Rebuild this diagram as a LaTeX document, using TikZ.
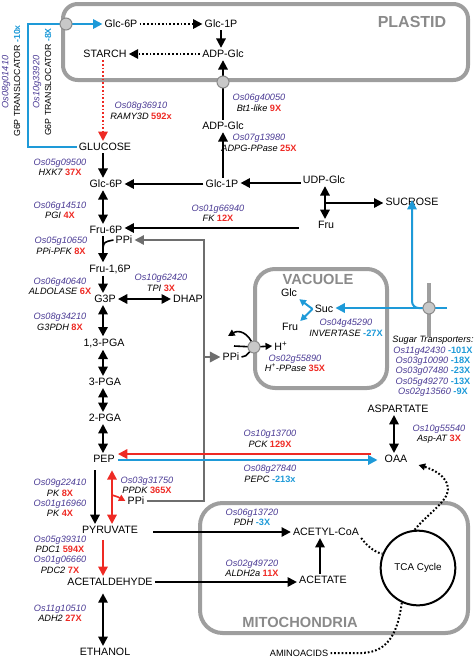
\documentclass[tikz,border=0pt]{standalone}
\usepackage{fontspec}
\setmainfont{Liberation Sans}
\usetikzlibrary{arrows.meta,calc}
\definecolor{geneC}{HTML}{4A3A94}
\definecolor{redC}{HTML}{EE2A24}
\definecolor{blueC}{HTML}{1E9AD8}
\definecolor{boxC}{HTML}{9E9E9E}
\definecolor{titleC}{HTML}{8A8A8A}
\definecolor{ppiC}{HTML}{6E6E6E}
\definecolor{circC}{HTML}{C8C8C8}
\newcommand{\upf}[1]{{\upshape\bfseries\color{redC}#1}}
\newcommand{\dnf}[1]{{\upshape\bfseries\color{blueC}#1}}
\newcommand{\gid}[1]{{\color{geneC}#1}}
\begin{document}
\begin{tikzpicture}[x=0.75pt,y=-0.75pt,
  met/.style={font=\fontsize{8}{9}\selectfont, inner sep=1.5pt},
  lab/.style={font=\fontsize{6.9}{7.8}\selectfont\itshape, align=center, inner sep=0pt},
  rlab/.style={font=\fontsize{6.6}{7.5}\selectfont, inner sep=0pt, rotate=90},
  title/.style={font=\fontsize{11}{12}\selectfont\bfseries, text=titleC},
  onehead/.style={-{Triangle[length=7pt,width=7pt]}},
  twohead/.style={{Triangle[length=7pt,width=7pt]}-{Triangle[length=7pt,width=7pt]}},
  smallhead/.style={-{Triangle[length=5pt,width=5pt]}},
  blk/.style={line width=1.5pt, onehead},
  blk2/.style={line width=1.5pt, twohead},
  dotline/.style={line width=1.5pt, dash pattern=on 1.3pt off 1.5pt},
  blueline/.style={line width=1.5pt, draw=blueC},
  redline/.style={line width=1.5pt, draw=redC},
  grayline/.style={line width=1.3pt, draw=ppiC},
  cellbox/.style={draw=boxC, line width=3pt, rounded corners=11pt},
  porter/.style={circle, draw=ppiC!80, fill=circC, line width=0.8pt, minimum size=9pt, inner sep=0pt}
]
\useasboundingbox (0,0) rectangle (474,658);

% compartments
\draw[cellbox] (63,4) rectangle (468,80);
\draw[cellbox, rounded corners=15pt] (255,269) rectangle (387,388);
\draw[cellbox, rounded corners=17pt] (200,503) rectangle (468,633);
\node[title, font=\fontsize{12}{13}\selectfont\bfseries] (plastidT) at (412,22) {PLASTID};
\node[title] (vacT) at (318,279) {VACUOLE};
\node[title] (mitoT) at (300,622) {MITOCHONDRIA};

% axes
\coordinate (ax) at (103,0);
\coordinate (kx) at (95,0);
\coordinate (rx) at (112,0);
\coordinate (ux) at (325,0);
\coordinate (acx) at (320,0);
\coordinate (asx) at (394,0);

% plastid metabolites
\node[met] (pglc6p) at (121,24) {Glc-6P};
\node[met] (pglc1p) at (221,24) {Glc-1P};
\node[met] (starch) at (105,54) {STARCH};
\node[met] (padpglc) at (223,54) {ADP-Glc};

% cytosol metabolites
\node[met] (adpglc) at (223,126) {ADP-Glc};
\node[met] (glucose) at (105,147) {GLUCOSE};
\node[met] (glc6p) at (106,184) {Glc-6P};
\node[met] (glc1p) at (222,184) {Glc-1P};
\node[met] (udpglc) at (324,180) {UDP-Glc};
\node[met] (fru) at (326,225) {Fru};
\node[met] (sucrose) at (412,202) {SUCROSE};
\node[met] (fru6p) at (106,230) {Fru-6P};
\node[met] (ppi1) at (124,240) {PPi};
\node[met] (fru16p) at (110,269) {Fru-1,6P};
\node[met] (g3p) at (105,299) {G3P};
\node[met] (dhap) at (188,299) {DHAP};
\node[met] (pga13) at (104,343) {1,3-PGA};
\node[met] (pga3) at (105,382) {3-PGA};
\node[met] (pga2) at (105,418) {2-PGA};
\node[met] (pep) at (104,459) {PEP};
\node[met] (ppi3) at (136,501) {PPi};
\node[met] (pyr) at (110,530) {PYRUVATE};
\node[met] (acald) at (110,582) {ACETALDEHYDE};
\node[met] (etoh) at (105,652) {ETHANOL};
\node[met] (asp) at (398,409) {ASPARTATE};
\node[met] (oaa) at (396,459) {OAA};
\node[met] (ppi2) at (231,357) {PPi};

% vacuole
\node[met] (glcv) at (289,293) {Glc};
\node[met] (suc) at (324,309) {Suc};
\node[met] (fruv) at (290,327) {Fru};
\node[met] (hplus) at (281,346) {H\textsuperscript{+}};

% mitochondria
\node[met] (acoa) at (326,532) {ACETYL-CoA};
\node[met] (acetate) at (323,580) {ACETATE};
\node[circle, draw, line width=1.5pt, minimum size=56pt, inner sep=0pt,
      font=\fontsize{7.4}{8}\selectfont] (tca) at (418,568) {TCA Cycle};
\node[met, font=\fontsize{6.9}{8}\selectfont] (amino) at (299,653) {AMINOACIDS};

% transporter positions
\coordinate (c1) at (66,24);
\coordinate (c2) at (223,82);
\coordinate (c3) at (429,308);
\coordinate (c4) at (254,347);

% ---- plastid reactions
\draw[dotline, onehead] (pglc6p.east) -- (pglc1p.west);
\draw[blk] (pglc1p.south) -- (pglc1p.south |- padpglc.north);
\draw[dotline, onehead] (padpglc.west) -- (starch.east);
\draw[redline, dash pattern=on 1.3pt off 1.5pt, onehead] (starch.south -| ax) -- (glucose.north -| ax);
\draw[blk] (adpglc.north) -- (adpglc.north |- padpglc.south);
\draw[blk] (glc1p.north -| adpglc) -- (adpglc.south);
\draw[blueline, onehead] (glucose.west) -- (28,147) -- (28,24) -- (pglc6p.west);

% ---- glycolysis
\draw[blk] (glucose.south -| ax) -- (glc6p.north -| ax);
\draw[blk] (glc1p.west) -- (glc6p.east);
\coordinate (ug) at ($(udpglc.west)+(0,3)$);
\draw[blk] (ug) -- (ug -| glc1p.east);
\draw[blk2] (udpglc.south -| ux) -- (fru.north -| ux);
\coordinate (j1) at (325,203);
\draw[blk] (j1) -- (j1 -| sucrose.west);
\coordinate (fk0) at ($(fru.west)+(-17,3)$);
\draw[blk] (fk0) -- (fk0 -| fru6p.east);
\draw[blk2] (glc6p.south -| ax) -- (fru6p.north -| ax);
\draw[blk] (fru6p.south -| ax) -- (fru16p.north -| ax);
\draw[line width=1.2pt] (103,248) .. controls (104,242) .. (ppi1.west);
\draw[blk] (fru16p.south -| ax) -- (g3p.north -| ax);
\draw[blk2] (g3p.east) -- (dhap.west);
\draw[blk2] (g3p.south -| ax) -- (pga13.north -| ax);
\draw[blk2] (pga13.south -| ax) -- (pga3.north -| ax);
\draw[blk2] (pga3.south -| ax) -- (pga2.north -| ax);
\draw[blk2] (pga2.south -| ax) -- (pep.north -| ax);

% PPi shuttle (gray)
\coordinate (gtop) at (204,240);
\coordinate (gmid) at (204,357);
\draw[grayline, -{Triangle[length=7pt,width=7pt]}] (ppi3.east) -| (gtop) -- (ppi1.east);
\draw[grayline, -{Triangle[length=8pt,width=8pt]}] (gmid) -- (ppi2.west);

% PEP / pyruvate
\draw[redline, onehead] ([shift={(-11,-5)}]oaa.west) -- ([shift={(1,-5)}]pep.east);
\draw[blueline, onehead] ([shift={(1,1)}]pep.east) -- ([shift={(-5,1)}]oaa.west);
\draw[blk2] (asp.south -| asx) -- (oaa.north -| asx);
\draw[blk] ([yshift=-4]pep.south -| kx) -- (pyr.north -| kx);
\draw[redline, twohead] ([yshift=-4]pep.south -| rx) -- (pyr.north -| rx);
\draw[redline, line width=1.2pt, smallhead] (112,495) -- (118,497) -- (ppi3.west);
\draw[redline, onehead] ([yshift=-3]pyr.south -| ax) -- (acald.north -| ax);
\draw[blk2] ([yshift=-4]acald.south -| ax) -- (etoh.north -| ax);
\coordinate (pdh0) at ($(pyr.east)+(13,2)$);
\draw[blk] (pdh0) -- (pdh0 -| acoa.west);
\draw[blk] (acald.east) -- (acald.east -| acetate.west);
\draw[blk] (acetate.north -| acx) -- (acoa.south -| acx);

% TCA dotted links
\draw[dotline] (acoa.south east) .. controls (368,547) and (376,553) .. (tca.158);
\draw[dotline, smallhead] (tca.95) .. controls (426,515) and (448,502) .. (448,489)
   .. controls (448,476) and (432,469) .. ([shift={(9,6)}]oaa.east);
\draw[dotline] (tca.245) .. controls (398,630) and (390,652) .. (362,653) -- (amino.east);

% vacuole / sugar transport
\draw[blueline, smallhead] (suc.west) -- (glcv.south east);
\draw[blueline, smallhead] (suc.west) -- (fruv.north east);
\draw[draw=boxC, line width=3pt] (429,283) -- (429,337);
\coordinate (st0) at (447,308);
\draw[blueline, onehead] (st0) -- (st0 -| suc.east);
\draw[blueline, onehead, rounded corners=5pt] (c3) -| ([yshift=6]sucrose.south);

% H+-PPase
\draw[line width=1.2pt] (234,346) -- (c4);
\draw[line width=1.2pt] (ppi2.east) .. controls (245,357) .. (c4);
\draw[line width=1.2pt, smallhead] (c4) .. controls (248,331) and (238,330) .. (228,336);
\draw[line width=1.2pt, smallhead] (c4) -- (hplus.west);

% transporter circles
\node[porter] (t1) at (c1) {};
\node[porter] (t2) at (c2) {};
\node[porter] (t3) at (c3) {};
\node[porter] (t4) at (c4) {};

% enzyme labels
\node[lab] (l1) at (141,111) {\gid{Os08g36910}\\RAMY3D \upf{592x}};
\node[lab] (l2) at (259,103) {\gid{Os06g40050}\\Bt1-like \upf{9X}};
\node[lab] (l3) at (259,143) {\gid{Os07g13980}\\ADPG-PPase \upf{25X}};
\node[lab] (l4) at (60,167.5) {\gid{Os05g09500}\\HXK7 \upf{37X}};
\node[lab] (l5) at (60,210.5) {\gid{Os06g14510}\\PGI \upf{4X}};
\node[lab] (l6) at (218,213.5) {\gid{Os01g66940}\\FK \upf{12X}};
\node[lab] (l7) at (61,246) {\gid{Os05g10650}\\PPi-PFK \upf{8X}};
\node[lab] (l8) at (60,286.5) {\gid{Os06g40640}\\ALDOLASE \upf{6X}};
\node[lab] (l9) at (161,283) {\gid{Os10g62420}\\TPI \upf{3X}};
\node[lab] (l10) at (60,322) {\gid{Os08g34210}\\G3PDH \upf{8X}};
\node[lab] (l11) at (346,328) {\gid{Os04g45290}\\INVERTASE \dnf{-27X}};
\node[lab] (l12) at (295,363.5) {\gid{Os02g55890}\\H\textsuperscript{+}-PPase \upf{35X}};
\node[lab] (l13) at (433,366.5) {Sugar Transporters:\\\gid{Os11g42430} \dnf{-101X}\\\gid{Os03g10090} \dnf{-18X}\\\gid{Os03g07480} \dnf{-23X}\\\gid{Os05g49270} \dnf{-13X}\\\gid{Os02g13560} \dnf{-9X}};
\node[lab] (l14) at (270,439) {\gid{Os10g13700}\\PCK \upf{129X}};
\node[lab] (l15) at (270,474) {\gid{Os08g27840}\\PEPC \dnf{-213x}};
\node[lab] (l16) at (439,434) {\gid{Os10g55540}\\Asp-AT \upf{3X}};
\node[lab] (l17) at (147,485.5) {\gid{Os03g31750}\\PPDK \upf{365X}};
\node[lab] (l18) at (60,498) {\gid{Os09g22410}\\PK \upf{8X}\\\gid{Os01g16960}\\PK \upf{4X}};
\node[lab] (l19) at (252,517.5) {\gid{Os06g13720}\\PDH \dnf{-3X}};
\node[lab] (l20) at (60,554.5) {\gid{Os05g39310}\\PDC1 \upf{594X}\\\gid{Os01g06660}\\PDC2 \upf{7X}};
\node[lab] (l21) at (252,568.5) {\gid{Os02g49720}\\ALDH2a \upf{11X}};
\node[lab] (l22) at (60,613) {\gid{Os11g10510}\\ADH2 \upf{27X}};

% rotated translocator labels
\node[lab, rotate=90] (r1) at (6,82) {\gid{Os08g01410}};
\node[rlab] (r2) at (17,81) {G6P TRANSLOCATOR \dnf{-10x}};
\node[lab, rotate=90] (r3) at (37,82) {\gid{Os10g33920}};
\node[rlab] (r4) at (48,82) {G6P TRANSLOCATOR \dnf{-8X}};
\end{tikzpicture}
\end{document}
